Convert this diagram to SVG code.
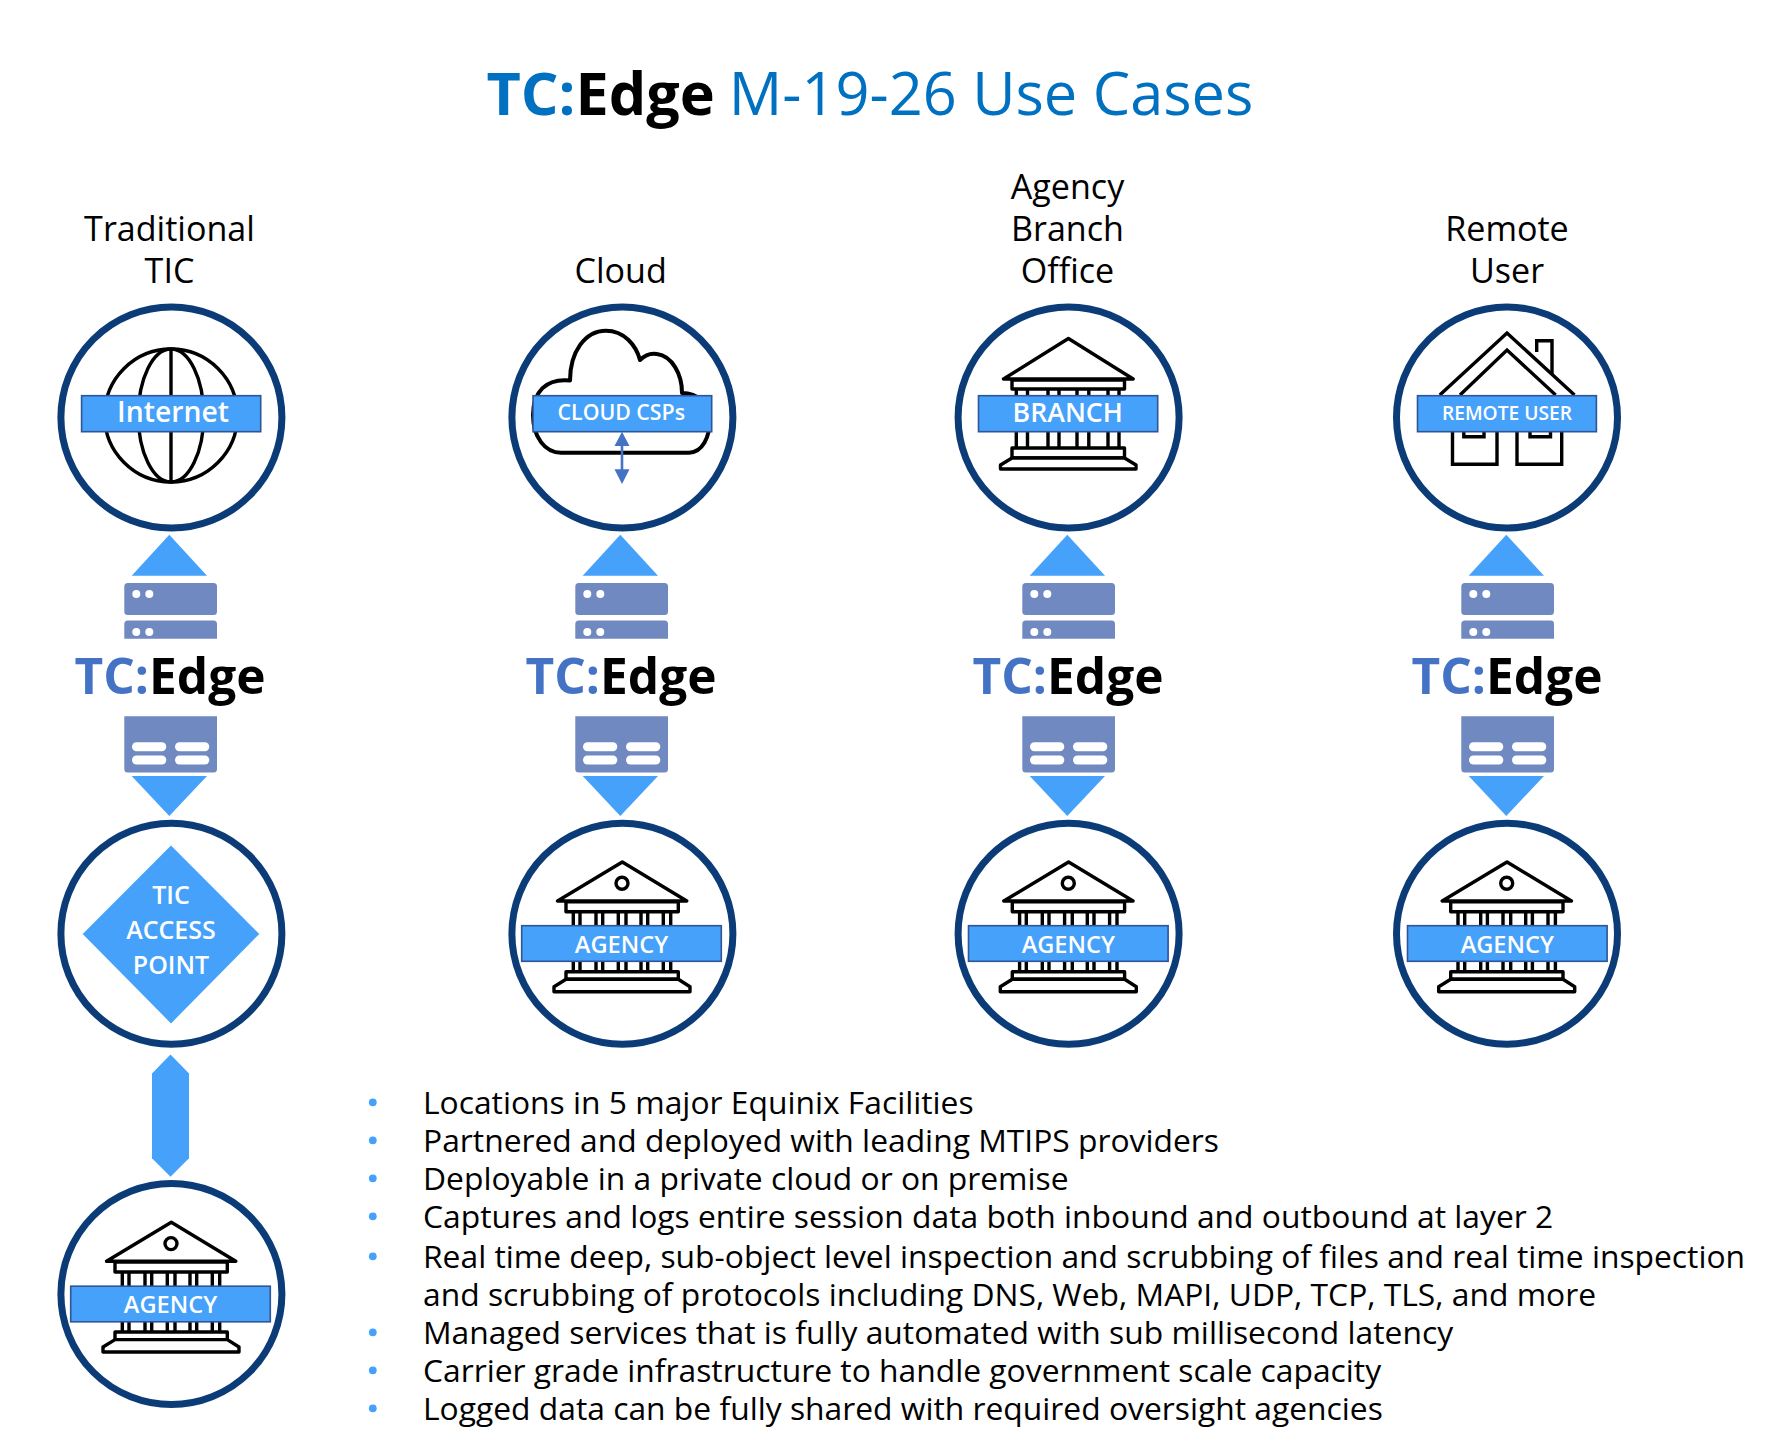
<svg xmlns="http://www.w3.org/2000/svg" xmlns:xlink="http://www.w3.org/1999/xlink" width="1792" height="1454" viewBox="0 0 1792 1454">
<style>
text{font-family:"Open Sans","Noto Sans","DejaVu Sans",sans-serif}
.ring{fill:#fff;stroke:#0c3c78;stroke-width:7}
.ink{fill:#fff;stroke:#000;stroke-width:3.4;stroke-linejoin:round}
.inkn{fill:none;stroke:#000;stroke-width:3.4}
.lab{fill:#45a1fa;stroke:#2f5597;stroke-width:1.6}
.lt{fill:#fff;text-anchor:middle;font-weight:600}
.hd{font-size:34.100px;text-anchor:middle;fill:#000}
.tri{fill:#45a1fa}
.st{fill:#7189c1}
.w{fill:#fff}
.tc{font-size:49.600px;font-weight:700;text-anchor:middle;fill:#000}
.tc tspan{fill:#4472c4}
.bt{font-size:31.800px;fill:#000}
.bd{fill:#45a1fa}
</style>
<defs>
<g id="agencyIcon">
<path class="ink" d="M622.300 862L557.500 901H686.800Z"/>
<circle class="ink" cx="622" cy="883.300" r="6"/>
<rect class="ink" x="566" y="901.700" width="112.300" height="10"/>
<path class="inkn" d="M573.300 912V972M580 912V972M596 912V972M602.700 912V972M618.300 912V972M626 912V972M641 912V972M647.700 912V972M663.300 912V972M670.700 912V972"/>
<rect class="ink" x="566" y="971.700" width="112.300" height="7.600"/>
<path class="ink" d="M566 979.300L554 986.700V991.700H690V986.700L678.300 979.300Z"/>
</g>
<g id="stack">
<rect class="st" x="124.300" y="583" width="92.700" height="32" rx="3.500"/>
<path class="st" d="M124.300 638.700V624a3.500 3.500 0 0 1 3.500-3.500H213.500a3.500 3.500 0 0 1 3.500 3.500V638.700Z"/>
<circle class="w" cx="136.300" cy="594" r="4"/><circle class="w" cx="149.300" cy="594" r="4"/>
<circle class="w" cx="136.300" cy="632" r="4"/><circle class="w" cx="149.300" cy="632" r="4"/>
<path class="st" d="M124.300 716.300H217V769a3.500 3.500 0 0 1-3.500 3.500H127.800a3.500 3.500 0 0 1-3.500-3.500Z"/>
<rect class="w" x="132" y="742.300" width="34.300" height="9" rx="4.500"/><rect class="w" x="175" y="742.300" width="34.300" height="9" rx="4.500"/>
<rect class="w" x="132" y="755.500" width="34.300" height="9" rx="4.500"/><rect class="w" x="175" y="755.500" width="34.300" height="9" rx="4.500"/>
</g>
<path id="up" class="tri" d="M169.300 534.700L207 575.700H131.700Z"/>
<path id="down" class="tri" d="M131.700 776H207L169.300 816Z"/>
</defs>

<g id="title"><text x="486.500" y="115" style="font-size:59.300px;fill:#0070c0"><tspan font-weight="700">TC:</tspan><tspan font-weight="700" fill="#000">Edge</tspan><tspan dx="-1.500" style="font-size:59.500px"> M-19-26 Use Cases</tspan></text></g>

<g id="connectors">
<use xlink:href="#up" href="#up"/><use href="#down" xlink:href="#down"/>
<use href="#up" xlink:href="#up" x="451"/><use href="#down" xlink:href="#down" x="451"/>
<use href="#up" xlink:href="#up" x="898"/><use href="#down" xlink:href="#down" x="898"/>
<use href="#up" xlink:href="#up" x="1337"/><use href="#down" xlink:href="#down" x="1337"/>
<path class="tri" d="M170.500 1054.600L189 1073.400V1158.300L170.500 1176.700L152 1158.300V1073.400Z"/>
</g>

<g id="col1-header"><text class="hd" x="169.500" y="240.700">Traditional</text><text class="hd" x="169.500" y="283">TIC</text></g>
<g id="col2-header"><text class="hd" x="620.600" y="283">Cloud</text></g>
<g id="col3-header"><text class="hd" x="1067.500" y="199">Agency</text><text class="hd" x="1067.500" y="240.700">Branch</text><text class="hd" x="1067.500" y="283">Office</text></g>
<g id="col4-header"><text class="hd" x="1507" y="240.700">Remote</text><text class="hd" x="1507" y="283">User</text></g>

<g id="internet">
<circle class="ring" cx="171.400" cy="417.500" r="110.500"/>
<ellipse class="inkn" cx="171" cy="415.500" rx="66.400" ry="66.500"/>
<ellipse class="inkn" cx="171" cy="415.500" rx="32.700" ry="66.500"/>
<path class="inkn" d="M171 349V482"/>
<rect class="lab" x="81.600" y="395.700" width="179.100" height="36"/>
<text class="lt" x="173" y="421.700" style="font-size:28.300px">Internet</text>
</g>

<g id="cloud">
<circle class="ring" cx="622.400" cy="417.500" r="110.500"/>
<path class="ink" style="stroke-width:4" d="M561 452.700C545 452.700 533 437 533 415C533 392 546 378 570 380.500C570 352 585 330.700 606 330.700C624 330.700 636 345 640 360C646 354 652 353 657 354C672 356 682 374 682 393C698 393 710 405 710 418C710 438 702 452.700 689 452.700Z"/>
<rect class="lab" x="533" y="395.700" width="178.700" height="36"/>
<text class="lt" x="621.300" y="420" style="font-size:21.300px">CLOUD CSPs</text>
<path fill="#4472c4" d="M622 431.700L629.500 446H623.300V469.300H629.500L622 484L614.500 469.300H620.700V446H614.500Z"/>
</g>

<g id="branch">
<circle class="ring" cx="1068.600" cy="417.500" r="110.500"/>
<path class="ink" d="M1068.400 338.500L1003.500 379H1133.200Z"/>
<rect class="ink" x="1012" y="380" width="112.500" height="9"/>
<path class="inkn" d="M1016.300 389V449M1027.500 389V449M1048 389V449M1059 389V449M1077 389V449M1088.800 389V449M1108 389V449M1119 389V449"/>
<rect class="ink" x="1012" y="448" width="112.500" height="10"/>
<path class="ink" d="M1012 458L1000.500 465V469H1136V465L1124.500 458Z"/>
<rect class="lab" x="978.500" y="395.700" width="179.200" height="36"/>
<text class="lt" x="1067.700" y="422.300" style="font-size:26.700px">BRANCH</text>
</g>

<g id="remote-user">
<circle class="ring" cx="1507" cy="417.500" r="110.500"/>
<path class="inkn" d="M1439.800 395L1507 333L1574.500 395M1460 395L1507 350L1555.600 395"/>
<path class="inkn" d="M1536.700 352V340.700H1552V374"/>
<path class="inkn" d="M1452.500 431V464.300H1497V431M1517 431V464.300H1561.700V431M1463.800 431V436.700H1484V431M1530 431V436.700H1550.500V431"/>
<rect class="lab" x="1417.500" y="395.700" width="178.900" height="36"/>
<text class="lt" x="1507" y="420" style="font-size:19.200px">REMOTE USER</text>
</g>

<g id="edge1"><use href="#stack" xlink:href="#stack"/><text class="tc" x="170" y="693.500"><tspan>TC:</tspan>Edge</text></g>
<g id="edge2"><use href="#stack" xlink:href="#stack" x="451"/><text class="tc" x="621" y="693.500"><tspan>TC:</tspan>Edge</text></g>
<g id="edge3"><use href="#stack" xlink:href="#stack" x="898"/><text class="tc" x="1068" y="693.500"><tspan>TC:</tspan>Edge</text></g>
<g id="edge4"><use href="#stack" xlink:href="#stack" x="1337"/><text class="tc" x="1507" y="693.500"><tspan>TC:</tspan>Edge</text></g>

<g id="tic-access-point">
<circle class="ring" cx="171.400" cy="933.700" r="110.500"/>
<path class="tri" d="M171 845.400L259.300 934L171 1023.400L82.700 934Z"/>
<text class="lt" x="171" y="904" style="font-size:25px">TIC</text>
<text class="lt" x="171" y="939" style="font-size:25px">ACCESS</text>
<text class="lt" x="171" y="973.500" style="font-size:25px">POINT</text>
</g>

<g id="agency-cloud">
<circle class="ring" cx="622.400" cy="933.700" r="110.500"/>
<use href="#agencyIcon" xlink:href="#agencyIcon"/>
<rect class="lab" x="521.700" y="925.700" width="199.600" height="35.600"/>
<text class="lt" x="621.500" y="952.500" style="font-size:23.600px">AGENCY</text>
</g>
<g id="agency-branch">
<circle class="ring" cx="1068.600" cy="933.700" r="110.500"/>
<use href="#agencyIcon" xlink:href="#agencyIcon" x="446.300"/>
<rect class="lab" x="968.500" y="925.700" width="199.600" height="35.600"/>
<text class="lt" x="1068.300" y="952.500" style="font-size:23.600px">AGENCY</text>
</g>
<g id="agency-remote">
<circle class="ring" cx="1507" cy="933.700" r="110.500"/>
<use href="#agencyIcon" xlink:href="#agencyIcon" x="884.700"/>
<rect class="lab" x="1407.500" y="925.700" width="199.600" height="35.600"/>
<text class="lt" x="1507.300" y="952.500" style="font-size:23.600px">AGENCY</text>
</g>
<g id="agency-tic">
<circle class="ring" cx="171.400" cy="1294" r="110.500"/>
<use href="#agencyIcon" xlink:href="#agencyIcon" x="-451" y="360.300"/>
<rect class="lab" x="70.700" y="1286.200" width="199.600" height="35.600"/>
<text class="lt" x="170.500" y="1313.300" style="font-size:23.600px">AGENCY</text>
</g>

<g id="bullets">
<circle class="bd" cx="372.800" cy="1102.300" r="3.900"/><text class="bt" x="423" y="1114">Locations in 5 major Equinix Facilities</text>
<circle class="bd" cx="372.800" cy="1140.300" r="3.900"/><text class="bt" x="423" y="1152">Partnered and deployed with leading MTIPS providers</text>
<circle class="bd" cx="372.800" cy="1178.300" r="3.900"/><text class="bt" x="423" y="1190">Deployable in a private cloud or on premise</text>
<circle class="bd" cx="372.800" cy="1216.300" r="3.900"/><text class="bt" x="423" y="1228">Captures and logs entire session data both inbound and outbound at layer 2</text>
<circle class="bd" cx="372.800" cy="1256.300" r="3.900"/><text class="bt" x="423" y="1268">Real time deep, sub-object level inspection and scrubbing of files and real time inspection</text>
<text class="bt" x="423" y="1306">and scrubbing of protocols including DNS, Web, MAPI, UDP, TCP, TLS, and more</text>
<circle class="bd" cx="372.800" cy="1332.300" r="3.900"/><text class="bt" x="423" y="1344">Managed services that is fully automated with sub millisecond latency</text>
<circle class="bd" cx="372.800" cy="1370.300" r="3.900"/><text class="bt" x="423" y="1382">Carrier grade infrastructure to handle government scale capacity</text>
<circle class="bd" cx="372.800" cy="1408.300" r="3.900"/><text class="bt" x="423" y="1420">Logged data can be fully shared with required oversight agencies</text>
</g>
</svg>
